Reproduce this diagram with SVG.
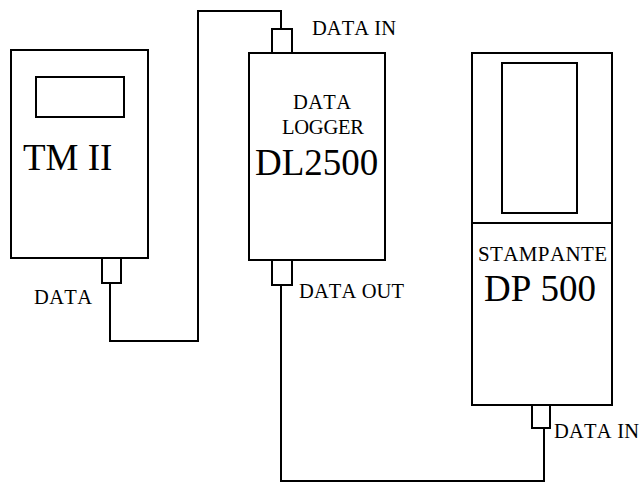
<svg xmlns="http://www.w3.org/2000/svg" width="643" height="483" viewBox="0 0 643 483">
<style>
.b{fill:#fff;stroke:#000;stroke-width:2}
.w{fill:none;stroke:#000;stroke-width:2}
text{font-family:"Liberation Serif","Times New Roman",serif;fill:#000;font-kerning:none}
.s{font-size:20.5px}
.l{font-size:37px}
</style>
<rect width="643" height="483" fill="#fff"/>
<g id="connectors">
<path class="w" d="M110,283 V341 H198 V11 H281 V29"/>
<path class="w" d="M281,285 V481 H544 V428"/>
</g>
<g id="tm2">
<rect class="b" x="11" y="50" width="137" height="208"/>
<rect class="b" x="36" y="77" width="88" height="40"/>
<text class="l" x="23" y="170">TM II</text>
<rect class="b" x="102" y="258" width="19" height="25"/>
<text class="s" x="34" y="304" textLength="58" lengthAdjust="spacing">DATA</text>
</g>
<g id="dl2500">
<rect class="b" x="249" y="53" width="136" height="207"/>
<rect class="b" x="272" y="29" width="20" height="24"/>
<rect class="b" x="272" y="260" width="20" height="25"/>
<text class="s" x="312" y="35" textLength="84" lengthAdjust="spacing">DATA IN</text>
<text class="s" x="293" y="109" textLength="58" lengthAdjust="spacing">DATA</text>
<text class="s" x="282" y="134" textLength="82" lengthAdjust="spacing">LOGGER</text>
<text class="l" x="255" y="175">DL2500</text>
<text class="s" x="299" y="298" textLength="105" lengthAdjust="spacing">DATA OUT</text>
</g>
<g id="dp500">
<rect class="b" x="472" y="53" width="140" height="352"/>
<line class="w" x1="472" y1="223" x2="612" y2="223"/>
<rect class="b" x="502" y="63" width="75" height="150"/>
<text x="478" y="261" font-size="21" textLength="129" lengthAdjust="spacing">STAMPANTE</text>
<text class="l" x="484" y="301">DP 500</text>
<rect class="b" x="532" y="405" width="18" height="23"/>
<text class="s" x="554" y="438" textLength="85" lengthAdjust="spacing">DATA IN</text>
</g>
</svg>
